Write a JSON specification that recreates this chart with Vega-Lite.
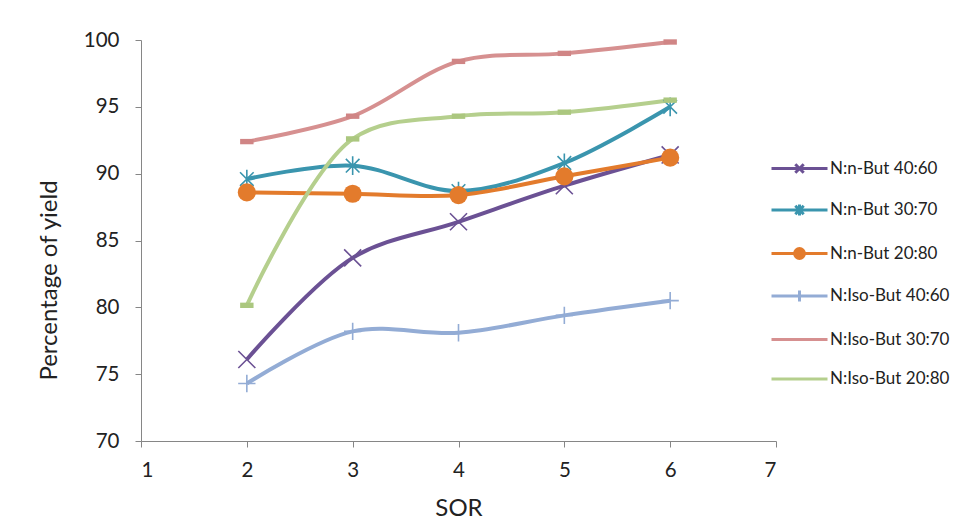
{
  "$schema": "https://vega.github.io/schema/vega-lite/v6.json",
  "width": 635,
  "height": 401,
  "autosize": {"type": "none"},
  "padding": {"left": 141, "top": 40, "right": 204, "bottom": 87},
  "background": "white",
  "config": {
    "view": {"stroke": null},
    "font": "Lato",
    "axis": {"grid": false, "domainColor": "#868686", "tickColor": "#868686", "tickSize": 6, "labelFont": "Lato", "titleFont": "Lato", "labelColor": "#222222", "titleColor": "#222222", "titleFontWeight": "normal"}
  },
  "data": {"values": [
    {"series": "N:n-But 40:60", "sor": 2, "yield": 76.1},
    {"series": "N:n-But 40:60", "sor": 3, "yield": 83.7},
    {"series": "N:n-But 40:60", "sor": 4, "yield": 86.4},
    {"series": "N:n-But 40:60", "sor": 5, "yield": 89.1},
    {"series": "N:n-But 40:60", "sor": 6, "yield": 91.4},
    {"series": "N:n-But 30:70", "sor": 2, "yield": 89.6},
    {"series": "N:n-But 30:70", "sor": 3, "yield": 90.6},
    {"series": "N:n-But 30:70", "sor": 4, "yield": 88.7},
    {"series": "N:n-But 30:70", "sor": 5, "yield": 90.8},
    {"series": "N:n-But 30:70", "sor": 6, "yield": 95.0},
    {"series": "N:n-But 20:80", "sor": 2, "yield": 88.6},
    {"series": "N:n-But 20:80", "sor": 3, "yield": 88.5},
    {"series": "N:n-But 20:80", "sor": 4, "yield": 88.4},
    {"series": "N:n-But 20:80", "sor": 5, "yield": 89.8},
    {"series": "N:n-But 20:80", "sor": 6, "yield": 91.2},
    {"series": "N:Iso-But 40:60", "sor": 2, "yield": 74.3},
    {"series": "N:Iso-But 40:60", "sor": 3, "yield": 78.2},
    {"series": "N:Iso-But 40:60", "sor": 4, "yield": 78.1},
    {"series": "N:Iso-But 40:60", "sor": 5, "yield": 79.4},
    {"series": "N:Iso-But 40:60", "sor": 6, "yield": 80.5},
    {"series": "N:Iso-But 30:70", "sor": 2, "yield": 92.4},
    {"series": "N:Iso-But 30:70", "sor": 3, "yield": 94.3},
    {"series": "N:Iso-But 30:70", "sor": 4, "yield": 98.4},
    {"series": "N:Iso-But 30:70", "sor": 5, "yield": 99.0},
    {"series": "N:Iso-But 30:70", "sor": 6, "yield": 99.85},
    {"series": "N:Iso-But 20:80", "sor": 2, "yield": 80.15},
    {"series": "N:Iso-But 20:80", "sor": 3, "yield": 92.6},
    {"series": "N:Iso-But 20:80", "sor": 4, "yield": 94.3},
    {"series": "N:Iso-But 20:80", "sor": 5, "yield": 94.6},
    {"series": "N:Iso-But 20:80", "sor": 6, "yield": 95.5}
  ]},
  "encoding": {
    "x": {"field": "sor", "type": "quantitative", "title": "SOR",
      "scale": {"domain": [1, 7], "nice": false, "zero": false},
      "axis": {"values": [1, 2, 3, 4, 5, 6, 7], "labelFontSize": 20.5, "labelPadding": 13, "titleFontSize": 24, "titlePadding": 16}},
    "y": {"field": "yield", "type": "quantitative", "title": "Percentage of yield",
      "scale": {"domain": [70, 100], "nice": false, "zero": false},
      "axis": {"values": [70, 75, 80, 85, 90, 95, 100], "labelFontSize": 20.5, "labelPadding": 16, "titleFontSize": 24, "titlePadding": 22, "titleY": 240}}
  },
  "layer": [
    {
      "mark": {"type": "line", "interpolate": "catmull-rom", "strokeWidth": 4},
      "encoding": {
        "color": {"field": "series", "type": "nominal",
          "scale": {"domain": ["N:n-But 40:60", "N:n-But 30:70", "N:n-But 20:80", "N:Iso-But 40:60", "N:Iso-But 30:70", "N:Iso-But 20:80"],
                    "range": ["#6B5194", "#3A95AE", "#E37B2C", "#93ACD5", "#D69090", "#B5CF8D"]},
          "legend": {"title": null, "orient": "none", "legendX": 643, "legendY": 113,
            "symbolSize": 784, "symbolStrokeWidth": 3, "labelFontSize": 17, "labelFont": "Lato", "labelColor": "#222222",
            "labelOffset": 15, "rowPadding": 15.5,
            "encode": {"symbols": {"update": {
              "shape": {"signal": "datum.value === 'N:n-But 40:60' ? 'M-2,0L2,0M-0.3,-0.3L0.3,0.3M-0.3,0.3L0.3,-0.3' : datum.value === 'N:n-But 30:70' ? 'M-2,0L2,0M-0.3,-0.3L0.3,0.3M-0.3,0.3L0.3,-0.3M0,-0.4L0,0.4' : datum.value === 'N:n-But 20:80' ? 'M-2,0L2,0M0.35,0A0.35,0.35 0 1 1 -0.35,0A0.35,0.35 0 1 1 0.35,0Z' : datum.value === 'N:Iso-But 40:60' ? 'M-2,0L2,0M0,-0.4L0,0.4' : 'M-2,0L2,0'"},
              "fill": {"signal": "scale('color', datum.value)"},
              "strokeWidth": {"value": 3}
            }}}
          }}
      }
    },
    {
      "transform": [{"filter": "datum.series === 'N:n-But 40:60'"}],
      "mark": {"type": "point", "shape": "M-1,-1L1,1M-1,1L1,-1", "size": 290, "filled": false, "strokeWidth": 1.6, "opacity": 1, "color": "#6B5194"}
    },
    {
      "transform": [{"filter": "datum.series === 'N:n-But 30:70'"}],
      "mark": {"type": "point", "shape": "M-0.8,-0.8L0.8,0.8M-0.8,0.8L0.8,-0.8M0,-1.1L0,1.1", "size": 290, "filled": false, "strokeWidth": 1.6, "opacity": 1, "color": "#3A95AE"}
    },
    {
      "transform": [{"filter": "datum.series === 'N:n-But 20:80'"}],
      "mark": {"type": "point", "shape": "circle", "size": 330, "filled": true, "opacity": 1, "color": "#E37B2C"}
    },
    {
      "transform": [{"filter": "datum.series === 'N:Iso-But 40:60'"}],
      "mark": {"type": "point", "shape": "M0,-1L0,1M-1,0L1,0", "size": 300, "filled": false, "strokeWidth": 1.6, "opacity": 1, "color": "#93ACD5"}
    },
    {
      "transform": [{"filter": "datum.series === 'N:Iso-But 30:70'"}],
      "mark": {"type": "point", "shape": "M-1,-0.4L1,-0.4L1,0.4L-1,0.4Z", "size": 180, "filled": true, "opacity": 1, "color": "#D08585"}
    },
    {
      "transform": [{"filter": "datum.series === 'N:Iso-But 20:80'"}],
      "mark": {"type": "point", "shape": "M-1,-0.4L1,-0.4L1,0.4L-1,0.4Z", "size": 180, "filled": true, "opacity": 1, "color": "#ABC77F"}
    }
  ]
}
